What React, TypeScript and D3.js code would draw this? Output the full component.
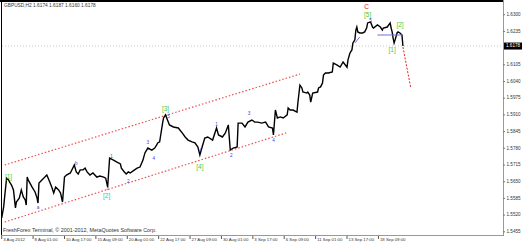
import React from "react";
import * as d3 from "d3";

const barIdx = [0,2,3,5,7,8,10,12,14,15,18,20,22,24,25,26,27,31,34,36,37,38,41,44,46,49,51,53,55,58,60,62,64,66,70,74,76,78,80,83,85,87,90,93,97,100,104,106,108,110,114,117,121,122,125,127,129,131,134,138,141,144,146,149,153,156,158,159,161,164,165,167,169,171,175,180,184,187,190,194,197,200,202,204,207,210,215,219,221,225,228,231,233,236,240,241,245,248,251,255,258,261,265,269,272,276,277,279,281,284,287,291,292,294,297,301,302,304,306,307,311,312,314,315,317,322,323,325,327,328,330,333,337,338,342,345,348,352,353,355,357,358,360,361,362,363,365,368,370,372,373,376,378,379,383,386,388,389,393,396,397,398,399,400,401,403,404,406,408,409];
const prices = [1.5509,1.5552,1.5591,1.5664,1.5657,1.5649,1.5637,1.5618,1.5548,1.5571,1.5587,1.5618,1.5591,1.5579,1.5559,1.5668,1.5657,1.5629,1.5610,1.5587,1.5567,1.5645,1.5657,1.5668,1.5676,1.5649,1.5629,1.5606,1.5629,1.5618,1.5606,1.5571,1.5668,1.5676,1.5684,1.5715,1.5688,1.5680,1.5696,1.5696,1.5703,1.5688,1.5676,1.5684,1.5668,1.5672,1.5668,1.5664,1.5629,1.5742,1.5734,1.5727,1.5719,1.5703,1.5688,1.5680,1.5688,1.5684,1.5692,1.5703,1.5707,1.5734,1.5762,1.5781,1.5773,1.5781,1.5793,1.5801,1.5805,1.5878,1.5898,1.5910,1.5890,1.5871,1.5863,1.5859,1.5840,1.5824,1.5812,1.5805,1.5801,1.5785,1.5754,1.5781,1.5820,1.5824,1.5812,1.5859,1.5832,1.5824,1.5840,1.5871,1.5773,1.5781,1.5785,1.5878,1.5878,1.5863,1.5882,1.5890,1.5882,1.5882,1.5878,1.5882,1.5863,1.5859,1.5832,1.5929,1.5898,1.5902,1.5898,1.5910,1.5937,1.5929,1.5929,1.5921,1.5960,1.6026,1.6015,1.5999,1.5995,1.5999,1.5987,1.5960,1.5995,1.5999,1.6015,1.6019,1.6034,1.6065,1.6073,1.6073,1.6077,1.6112,1.6104,1.6096,1.6116,1.6096,1.6124,1.6151,1.6163,1.6190,1.6202,1.6240,1.6252,1.6233,1.6229,1.6229,1.6233,1.6248,1.6268,1.6272,1.6252,1.6248,1.6260,1.6252,1.6240,1.6248,1.6252,1.6268,1.6248,1.6233,1.6209,1.6190,1.6202,1.6229,1.6233,1.6229,1.6221,1.6178];

const yTicks = [1.6300,1.6235,1.6105,1.6040,1.5975,1.5910,1.5845,1.5780,1.5715,1.5650,1.5585,1.5520,1.5455];
const xTickLabels = ["3 Aug 2012","8 Aug 01:00","10 Aug 17:00","15 Aug 09:00","20 Aug 01:00","22 Aug 17:00","27 Aug 09:00","30 Aug 01:00","3 Sep 17:00","6 Sep 09:00","11 Sep 01:00","13 Sep 17:00","18 Sep 09:00"];
const xTickBars = [0,32,64,96,128,160,192,224,256,288,320,352,384];
const lastPrice = 1.6178;

// channel lines: [bar, price] endpoints
const upperChannel = [[3,1.5715],[304,1.6069]];
const lowerChannel = [[3,1.5493],[290,1.5840]];
const projection = [[409,1.6174],[417,1.6015]];
const blueSegments = [[[360,1.6190],[365,1.6213]],[[383,1.6221],[408,1.6221]]];

const greenLabels = ["[1]","[2]","[3]","[4]","[5]","[1]","[2]"];
const greenBars = [7,107,167,202,373,398,406];
const greenPrices = [1.5668,1.5592,1.5931,1.5708,1.6299,1.6163,1.6259];
const blueLabels = ["a","b","c","1","2","3","4","5","c","1","2","3","4","5"];
const blueBars = [37,76,108,112,129,149,155,170,203,219,234,252,277,376];
const bluePrices = [1.5548,1.5719,1.5622,1.5746,1.5649,1.5801,1.5739,1.5902,1.5773,1.5871,1.5750,1.5914,1.5809,1.6276];

export default function App() {
  const W = 522, H = 243;
  const x = d3.scaleLinear().domain([0, 511]).range([1.7, 503]);
  const y = d3.scaleLinear().domain([1.5455, 1.63]).range([231.8, 14.7]);
  const line = d3.line<number>().x((_, i) => x(barIdx[i])).y((d) => y(d));
  const font = "'Liberation Sans', Arial, sans-serif";
  const seg = (s: number[][]) => ({ x1: x(s[0][0]), y1: y(s[0][1]), x2: x(s[1][0]), y2: y(s[1][1]) });
  return (
    <svg width={W} height={H} style={{ position: "fixed", left: 0, top: 0, background: "#fff" }} fontFamily={font}>
      <rect x={0} y={0} width={W} height={H} fill="#fff" />
      {/* frame */}
      <line x1={0} y1={1} x2={503} y2={1} stroke="#000" strokeWidth={2} />
      <line x1={1.5} y1={0} x2={1.5} y2={236} stroke="#000" strokeWidth={1} />
      <line x1={503.5} y1={0} x2={503.5} y2={236} stroke="#999" strokeWidth={1} />
      <line x1={1} y1={235.5} x2={504} y2={235.5} stroke="#999" strokeWidth={1} />
      {/* price level line */}
      <line x1={2} x2={503} y1={y(lastPrice)} y2={y(lastPrice)} stroke="#c8c8c8" strokeWidth={1} strokeDasharray="1 2" />
      {/* channel */}
      <line {...seg(upperChannel)} stroke="#ee3030" strokeWidth={1.2} strokeDasharray="1.5 2" opacity={0.85} />
      <line {...seg(lowerChannel)} stroke="#ee3030" strokeWidth={1.2} strokeDasharray="1.5 2" opacity={0.85} />
      {/* price */}
      <path d={line(prices) || ""} fill="none" stroke="#000" strokeWidth={1.4} strokeLinejoin="miter" />
      {blueSegments.map((s, i) => (
        <line key={i} {...seg(s)} stroke="#7070e0" strokeWidth={1} />
      ))}
      <line {...seg(projection)} stroke="#ee2020" strokeWidth={1} strokeDasharray="2 1.5" />
      {/* wave labels */}
      {greenLabels.map((t, i) => (
        <text key={"g" + i} x={x(greenBars[i])} y={y(greenPrices[i])} fontSize={6.5} fill="#44cc44" textAnchor="middle" dominantBaseline="middle">{t}</text>
      ))}
      {blueLabels.map((t, i) => (
        <text key={"b" + i} x={x(blueBars[i])} y={y(bluePrices[i])} fontSize={4.6} fill="#4040ee" textAnchor="middle" dominantBaseline="middle">{t}</text>
      ))}
      <text x={x(372)} y={7} fontSize={6.5} fill="#e02020" textAnchor="middle" dominantBaseline="middle">C</text>
      {/* y axis */}
      {yTicks.map((t) => (
        <g key={t}>
          <line x1={503} x2={505} y1={y(t)} y2={y(t)} stroke="#777" />
          <text x={506.5} y={y(t)} fontSize={4.6} fill="#333" dominantBaseline="middle">{t.toFixed(4)}</text>
        </g>
      ))}
      <rect x={504} y={y(lastPrice) - 3.5} width={18} height={7} fill="#000" />
      <text x={506} y={y(lastPrice)} fontSize={4.6} fill="#fff" dominantBaseline="middle">{lastPrice.toFixed(4)}</text>
      {/* x axis */}
      {xTickBars.map((b, i) => (
        <g key={b}>
          <line x1={x(b)} x2={x(b)} y1={236} y2={239} stroke="#555" />
          <text x={x(b) + 1.5} y={239.5} fontSize={4.3} fill="#333" dominantBaseline="middle">{xTickLabels[i]}</text>
        </g>
      ))}
      {/* header & footer */}
      <text x={4} y={6} fontSize={4.8} fill="#333" dominantBaseline="middle">GBPUSD,H2  1.6174 1.6187 1.6160 1.6178</text>
      <text x={3} y={231} fontSize={5.4} fill="#333" dominantBaseline="middle">FreshForex Terminal, © 2001-2012, MetaQuotes Software Corp.</text>
    </svg>
  );
}
